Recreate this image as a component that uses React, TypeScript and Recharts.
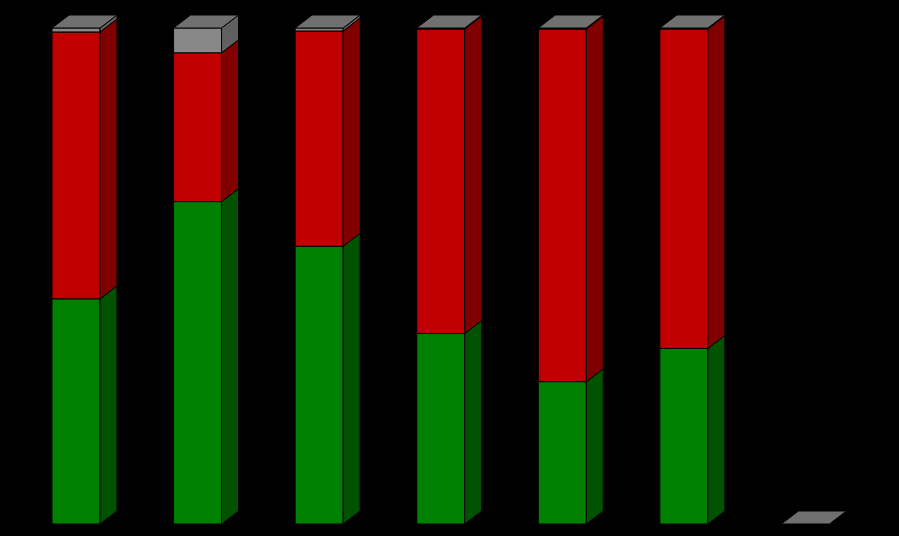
import { BarChart, Bar, XAxis, YAxis } from 'recharts';

const categories = ['1', '2', '3', '4', '5', '6', '7'];
const greenValues = [45.4, 65.0, 56.0, 38.4, 28.7, 35.4, 0];
const redValues = [53.8, 30.0, 43.4, 61.4, 71.1, 64.4, 0];
const grayValues = [0.8, 5.0, 0.6, 0.2, 0.2, 0.2, 0];

const data = categories.map((c, i) => ({
  name: c,
  green: greenValues[i],
  red: redValues[i],
  gray: grayValues[i],
}));

const DX = 17;
const DY = 13;

function box(front: string, side: string, top?: string) {
  return (props: any) => {
    const { x, y, width, height } = props;
    const h = Math.max(0, height || 0);
    return (
      <g>
        {h > 0 && (
          <>
            <rect x={x} y={y} width={width} height={h} fill={front} stroke="#000" strokeWidth={1} />
            <polygon
              points={`${x + width},${y} ${x + width + DX},${y - DY} ${x + width + DX},${y + h - DY} ${x + width},${y + h}`}
              fill={side}
              stroke="#000"
              strokeWidth={1}
            />
          </>
        )}
        {top && (
          <polygon
            points={`${x},${y} ${x + DX},${y - DY} ${x + width + DX},${y - DY} ${x + width},${y}`}
            fill={top}
            stroke="#000"
            strokeWidth={1}
          />
        )}
      </g>
    );
  };
}

export default function App() {
  return (
    <div style={{ position: 'fixed', top: 0, left: 0, width: 899, height: 536, background: '#000' }}>
      <BarChart
        width={899}
        height={536}
        data={data}
        margin={{ top: 28, right: 33, bottom: 12, left: 15 }}
        barSize={48}
      >
        <XAxis dataKey="name" hide />
        <YAxis hide domain={[0, 100]} />
        <Bar dataKey="green" stackId="a" isAnimationActive={false} shape={box('#008000', '#005200')} />
        <Bar dataKey="red" stackId="a" isAnimationActive={false} shape={box('#c00000', '#800000')} />
        <Bar dataKey="gray" stackId="a" isAnimationActive={false} shape={box('#888888', '#606060', '#707070')} />
      </BarChart>
    </div>
  );
}
